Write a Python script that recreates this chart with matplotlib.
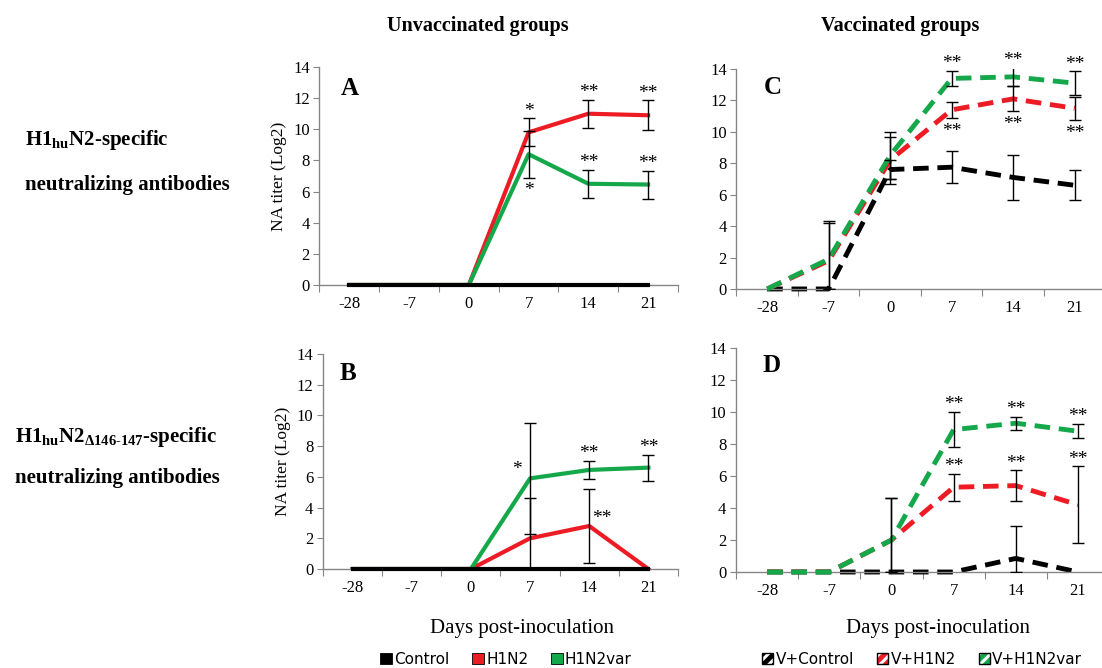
import numpy as np
import matplotlib
matplotlib.use("Agg")
import matplotlib.pyplot as plt
from matplotlib.patches import Patch
from matplotlib.legend_handler import HandlerTuple

# --- Data (NA titer, Log2) ---
days = ["-28", "-7", "0", "7", "14", "21"]

# A: unvaccinated, H1huN2-specific
a_control = [0, 0, 0, 0, 0, 0]
a_h1n2 = [0, 0, 0, 9.8, 11.0, 10.9]
a_h1n2_err = [0, 0, 0, 0.9, 0.9, 0.95]
a_var = [0, 0, 0, 8.4, 6.5, 6.45]
a_var_err = [0, 0, 0, 1.5, 0.9, 0.9]
a_h1n2_sig = ["", "", "", "*", "**", "**"]
a_var_sig_below = ["", "", "", "*", "", ""]
a_var_sig_above = ["", "", "", "", "**", "**"]

# B: unvaccinated, H1huN2 d146-147-specific
b_control = [0, 0, 0, 0, 0, 0]
b_h1n2 = [0, 0, 0, 2.0, 2.8, 0]
b_h1n2_err = [0, 0, 0, 2.6, 2.4, 0]
b_var = [0, 0, 0, 5.9, 6.45, 6.6]
b_var_err = [0, 0, 0, 3.6, 0.6, 0.85]
b_h1n2_sig_right = ["", "", "", "", "**", ""]
b_var_sig_left = ["", "", "", "*", "", ""]
b_var_sig_above = ["", "", "", "", "**", "**"]

# C: vaccinated, H1huN2-specific
c_control = [0, 0, 7.6, 7.75, 7.1, 6.6]
c_control_err = [0, 0, 0.6, 1.0, 1.45, 0.95]
c_h1n2 = [0, 1.8, 8.2, 11.4, 12.1, 11.5]
c_h1n2_err = [0, 2.4, 1.5, 0.5, 0.8, 0.75]
c_var = [0, 1.9, 8.5, 13.4, 13.5, 13.1]
c_var_err = [0, 2.45, 1.5, 0.5, 0.6, 0.75]
c_h1n2_sig = ["", "", "", "**", "**", "**"]
c_var_sig = ["", "", "", "**", "**", "**"]

# D: vaccinated, H1huN2 d146-147-specific
d_control = [0, 0, 0, 0, 0.85, 0]
d_control_err = [0, 0, 0, 0, 2.0, 0]
d_h1n2 = [0, 0, 2.0, 5.3, 5.4, 4.2]
d_h1n2_err = [0, 0, 2.65, 0.85, 0.95, 2.4]
d_var = [0, 0, 2.0, 8.9, 9.3, 8.8]
d_var_err = [0, 0, 2.65, 1.1, 0.4, 0.45]
d_h1n2_sig = ["", "", "", "**", "**", "**"]
d_var_sig = ["", "", "", "**", "**", "**"]

RED = "#ED1C24"
GREEN = "#14A84B"
BLACK = "#000000"
GREY = "#868686"
SERIF = "Liberation Serif"

plt.rcParams["font.family"] = SERIF
plt.rcParams["hatch.linewidth"] = 2.2
plt.rcParams["mathtext.fontset"] = "custom"
plt.rcParams["mathtext.rm"] = SERIF + ":bold"
plt.rcParams["mathtext.it"] = SERIF + ":bold"
plt.rcParams["mathtext.bf"] = SERIF + ":bold"

fig = plt.figure(figsize=(11.02, 6.68), dpi=100)

ax_a = fig.add_axes([0.2899, 0.5734, 0.3253, 0.3263])
ax_b = fig.add_axes([0.2931, 0.1482, 0.3221, 0.3219])
ax_c = fig.add_axes([0.6683, 0.5674, 0.3348, 0.3293])
ax_d = fig.add_axes([0.6679, 0.1437, 0.3385, 0.3353])

x = np.arange(len(days))


def style_axis(ax, letter, lx, ly):
    ax.set_xlim(-0.5, len(days) - 0.5)
    ax.set_ylim(0, 14)
    ax.set_yticks(range(0, 15, 2))
    ax.set_xticks(np.arange(-0.5, len(days), 1.0))
    ax.set_xticklabels([])
    ax.set_xticks(x, minor=True)
    ax.set_xticklabels(days, minor=True)
    ax.tick_params(axis="x", which="major", length=5, color=GREY, direction="out")
    ax.tick_params(axis="x", which="minor", length=0, pad=8, labelsize=12)
    ax.tick_params(axis="y", length=4, color=GREY, labelsize=12, pad=3)
    for s in ["top", "right"]:
        ax.spines[s].set_visible(False)
    for s in ["left", "bottom"]:
        ax.spines[s].set_color(GREY)
        ax.spines[s].set_linewidth(1.0)
    ax.text(lx, ly, letter, transform=ax.transAxes, fontsize=18,
            fontweight="bold", ha="left", va="center")


def errbars(ax, vals, errs):
    for i, (v, e) in enumerate(zip(vals, errs)):
        if e > 0:
            lo = min(e, v)
            ax.errorbar(i, v, yerr=[[lo], [e]], fmt="none", ecolor=BLACK,
                        elinewidth=1.0, capsize=4, capthick=1.0, zorder=5)


def stars(ax, vals, errs, sigs, side):
    for i, (v, e, s) in enumerate(zip(vals, errs, sigs)):
        if not s:
            continue
        dx = 0
        if side == "above":
            y = v + e + 0.45
        elif side == "below":
            y = v - e - 0.85
        elif side == "left":
            y = v + 0.6
            dx = -0.22
        else:
            y = v + 0.5
            dx = 0.22
        ax.text(i + dx, y, s, ha="center", va="center", fontsize=14,
                clip_on=False, zorder=6)


# --- Panel A ---
ax_a.plot(x, a_h1n2, color=RED, lw=3, zorder=3)
ax_a.plot(x, a_var, color=GREEN, lw=3, zorder=3)
ax_a.plot(x, a_control, color=BLACK, lw=3, zorder=4, clip_on=False)
errbars(ax_a, a_h1n2, a_h1n2_err)
errbars(ax_a, a_var, a_var_err)
stars(ax_a, a_h1n2, a_h1n2_err, a_h1n2_sig, "above")
stars(ax_a, a_var, a_var_err, a_var_sig_below, "below")
stars(ax_a, a_var, a_var_err, a_var_sig_above, "above")
style_axis(ax_a, "A", 0.058, 0.90)
ax_a.set_ylabel("NA titer (Log2)", fontsize=12.5, labelpad=4)

# --- Panel B ---
ax_b.plot(x, b_h1n2, color=RED, lw=3, zorder=3)
ax_b.plot(x, b_var, color=GREEN, lw=3, zorder=3)
ax_b.plot(x, b_control, color=BLACK, lw=3, zorder=4, clip_on=False)
errbars(ax_b, b_h1n2, b_h1n2_err)
errbars(ax_b, b_var, b_var_err)
stars(ax_b, b_h1n2, b_h1n2_err, b_h1n2_sig_right, "right")
stars(ax_b, b_var, b_var_err, b_var_sig_left, "left")
stars(ax_b, b_var, b_var_err, b_var_sig_above, "above")
style_axis(ax_b, "B", 0.048, 0.91)
ax_b.set_ylabel("NA titer (Log2)", fontsize=12.5, labelpad=4)

# --- Panel C ---
dash = (3.2, 1.8)
ax_c.plot(x, c_control, color=BLACK, lw=3.5, dashes=dash, zorder=2, clip_on=False)
ax_c.plot(x, c_h1n2, color=RED, lw=3.5, dashes=dash, zorder=3)
ax_c.plot(x, c_var, color=GREEN, lw=3.5, dashes=dash, zorder=4, clip_on=False)
errbars(ax_c, c_control, c_control_err)
errbars(ax_c, c_h1n2, c_h1n2_err)
errbars(ax_c, c_var, c_var_err)
stars(ax_c, c_var, c_var_err, c_var_sig, "above")
stars(ax_c, c_h1n2, c_h1n2_err, c_h1n2_sig, "below")
style_axis(ax_c, "C", 0.073, 0.918)

# --- Panel D ---
ax_d.plot(x, d_control, color=BLACK, lw=3.5, dashes=dash, zorder=2, clip_on=False)
ax_d.plot(x, d_h1n2, color=RED, lw=3.5, dashes=dash, zorder=3)
ax_d.plot(x, d_var, color=GREEN, lw=3.5, dashes=dash, zorder=4, clip_on=False)
errbars(ax_d, d_control, d_control_err)
errbars(ax_d, d_h1n2, d_h1n2_err)
errbars(ax_d, d_var, d_var_err)
stars(ax_d, d_var, d_var_err, d_var_sig, "above")
stars(ax_d, d_h1n2, d_h1n2_err, d_h1n2_sig, "above")
style_axis(ax_d, "D", 0.072, 0.92)

# --- Headers and row labels ---
fig.text(478 / 1102, 1 - 26 / 668, "Unvaccinated groups", ha="center", va="center",
         fontsize=14.5, fontweight="bold")
fig.text(900 / 1102, 1 - 26 / 668, "Vaccinated groups", ha="center", va="center",
         fontsize=14.5, fontweight="bold")

row_kw = dict(ha="left", va="center", fontsize=15, fontweight="bold")
fig.text(25 / 1102, 1 - 140 / 668, r"H1$_{\mathrm{hu}}$N2-specific", **row_kw)
fig.text(25 / 1102, 1 - 185 / 668, "neutralizing antibodies", **row_kw)
fig.text(15 / 1102, 1 - 437 / 668,
         r"H1$_{\mathrm{hu}}$N2$_{\Delta\mathrm{146\text{-}147}}$-specific", **row_kw)
fig.text(15 / 1102, 1 - 478 / 668, "neutralizing antibodies", **row_kw)

fig.text(522 / 1102, 1 - 628 / 668, "Days post-inoculation", ha="center", va="center",
         fontsize=15)
fig.text(938 / 1102, 1 - 628 / 668, "Days post-inoculation", ha="center", va="center",
         fontsize=15)

# --- Legends ---
leg_kw = dict(loc="center", ncol=3, frameon=False, handlelength=0.75,
              handleheight=0.75, handletextpad=0.15, columnspacing=1.5,
              prop={"family": "DejaVu Sans", "size": 11})

left_handles = [Patch(facecolor=c, edgecolor=BLACK, lw=0.6) for c in (BLACK, RED, GREEN)]
fig.legend(left_handles, ["Control", "H1N2", "H1N2var"],
           bbox_to_anchor=(506 / 1102, 1 - 659 / 668), **leg_kw)

right_handles = []
for c in (BLACK, RED, GREEN):
    right_handles.append((Patch(facecolor=c, edgecolor="white", hatch="///", lw=0),
                          Patch(facecolor="none", edgecolor=BLACK, lw=1.0)))
fig.legend(right_handles, ["V+Control", "V+H1N2", "V+H1N2var"],
           bbox_to_anchor=(922 / 1102, 1 - 659 / 668),
           handler_map={tuple: HandlerTuple(ndivide=1, pad=0)}, **leg_kw)

fig.savefig("out.png", dpi=100)
